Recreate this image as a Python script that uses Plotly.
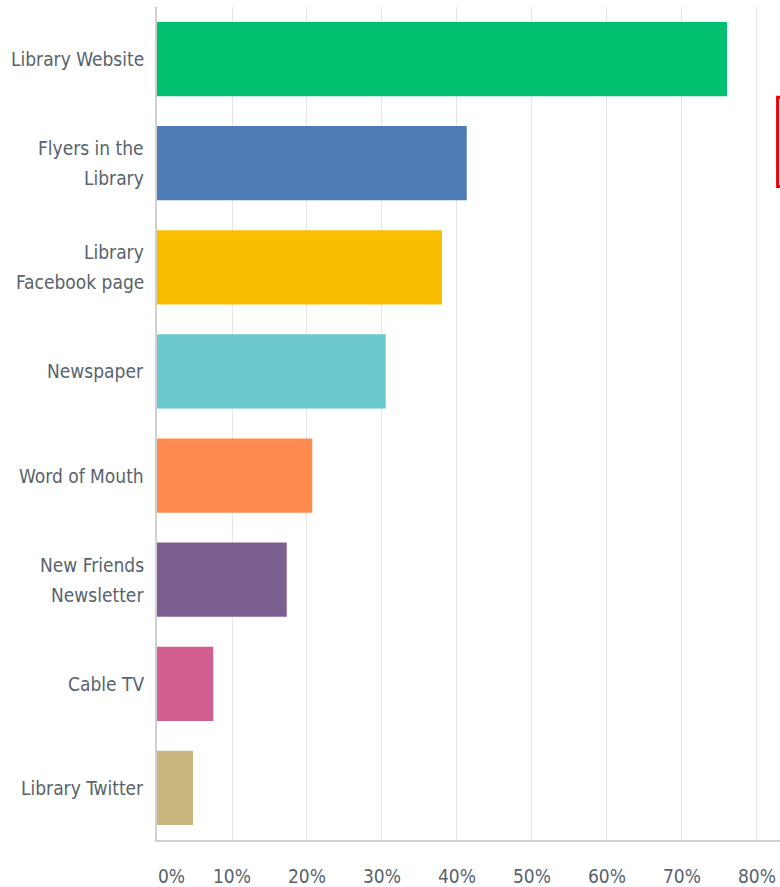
import plotly.graph_objects as go

categories = ["Library Website", "Flyers in the Library", "Library Facebook page", "Newspaper",
              "Word of Mouth", "New Friends Newsletter", "Cable TV", "Library Twitter"]
label_lines = [["Library Website"], ["Flyers in the", "Library"], ["Library", "Facebook page"],
               ["Newspaper"], ["Word of Mouth"], ["New Friends", "Newsletter"], ["Cable TV"],
               ["Library Twitter"]]
values = [76.0, 41.3, 38.0, 30.5, 20.7, 17.3, 7.5, 4.8]
colors = ["#00BF6F", "#507CB6", "#F9BE00", "#6BC8CD", "#FF8B4F", "#7D5E90", "#D25F90", "#C9B77D"]
tick_vals = [0, 10, 20, 30, 40, 50, 60, 70, 80]
tick_text = ["", "10%", "20%", "30%", "40%", "50%", "60%", "70%", "80%"]
first_tick_text = "0%"

FONT = "Liberation Sans Narrow, DejaVu Sans Condensed, Arial Narrow, sans-serif"
TXT = "#58636B"

fig = go.Figure(go.Bar(
    y=categories, x=values, orientation="h",
    marker=dict(color=colors, line=dict(width=0)),
    hoverinfo="skip",
))

annotations = []
for cat, lines in zip(categories, label_lines):
    n = len(lines)
    for i, ln in enumerate(lines):
        shift = (n - 1) * 15 - i * 30
        annotations.append(dict(
            x=0, xref="paper", y=cat, yref="y", text=ln, showarrow=False,
            xanchor="right", yanchor="middle", xshift=-11, yshift=shift,
            font=dict(family=FONT, size=19, color=TXT),
        ))
annotations.append(dict(
    x=tick_vals[0], xref="x", y=0, yref="paper", text=first_tick_text, showarrow=False,
    xanchor="center", yanchor="middle", xshift=14, yshift=-36,
    font=dict(family=FONT, size=19, color=TXT),
))

fig.update_layout(
    width=780, height=887,
    margin=dict(l=157, r=0, t=7, b=47),
    paper_bgcolor="white", plot_bgcolor="white",
    bargap=0.286,
    showlegend=False,
    annotations=annotations,
    shapes=[dict(type="rect", xref="x", yref="paper", x0=82.75, x1=86,
                 y0=(838 - 186) / 831, y1=(838 - 97) / 831,
                 line=dict(color="#E8000B", width=3), fillcolor="white")],
    xaxis=dict(range=[0, 83.07], tickvals=tick_vals, ticktext=tick_text,
               showgrid=True, gridcolor="#E6E6E6", gridwidth=1,
               zeroline=False, showline=True, linecolor="#D0D0D0", linewidth=2,
               ticks="", ticklabelstandoff=18,
               tickfont=dict(family=FONT, size=19, color=TXT), fixedrange=True),
    yaxis=dict(autorange="reversed", showticklabels=False, showgrid=False,
               showline=True, linecolor="#D0D0D0", linewidth=2, zeroline=False,
               ticks="", fixedrange=True),
)

fig.write_html("out.html")
